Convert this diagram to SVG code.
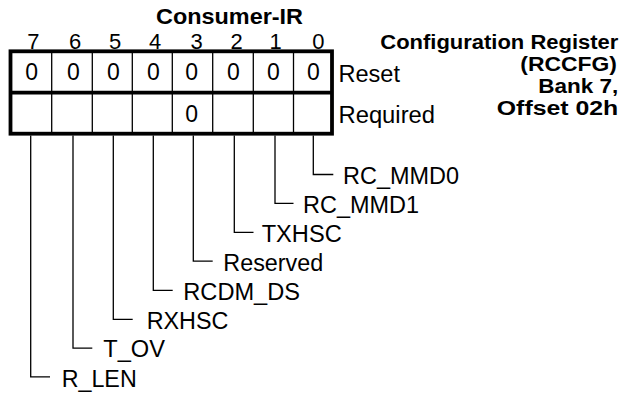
<svg xmlns="http://www.w3.org/2000/svg" width="623" height="393" viewBox="0 0 623 393">
<style>
text{font-family:"Liberation Sans",Arial,Helvetica,sans-serif;font-size:23px;fill:#000}
.b{font-weight:bold;font-size:22px}
.rn{font-weight:bold;font-size:19.5px;text-anchor:end}
.m{text-anchor:middle}
.bn{text-anchor:middle;font-size:22px}
.thick{fill:none;stroke:#000;stroke-width:3.8}
.thin{fill:none;stroke:#000;stroke-width:1.3}
.conn{fill:none;stroke:#000;stroke-width:1.3}
</style>
<rect width="623" height="393" fill="#fff"/>
<g id="title">
<text class="b" x="156" y="23.7" textLength="147" lengthAdjust="spacingAndGlyphs">Consumer-IR</text>
</g>
<g id="bit-numbers">
<text class="bn" x="33.3" y="48.5">7</text>
<text class="bn" x="75" y="48.5">6</text>
<text class="bn" x="115" y="48.5">5</text>
<text class="bn" x="155" y="48.5">4</text>
<text class="bn" x="196.5" y="48.5">3</text>
<text class="bn" x="236.7" y="48.5">2</text>
<text class="bn" x="275.5" y="48.5">1</text>
<text class="bn" x="318.3" y="48.5">0</text>
</g>
<g id="register">
<rect class="thick" x="10.5" y="51.3" width="321.5" height="82.4"/>
<line class="thick" x1="10.5" y1="92.7" x2="332" y2="92.7"/>
<line class="thin" x1="51.7" y1="51.3" x2="51.7" y2="133.7"/>
<line class="thin" x1="92.3" y1="51.3" x2="92.3" y2="133.7"/>
<line class="thin" x1="132.3" y1="51.3" x2="132.3" y2="133.7"/>
<line class="thin" x1="172.3" y1="51.3" x2="172.3" y2="133.7"/>
<line class="thin" x1="212.7" y1="51.3" x2="212.7" y2="133.7"/>
<line class="thin" x1="253.3" y1="51.3" x2="253.3" y2="133.7"/>
<line class="thin" x1="293.5" y1="51.3" x2="293.5" y2="133.7"/>
<text class="m" x="31.7" y="79.5">0</text>
<text class="m" x="73.3" y="79.5">0</text>
<text class="m" x="113.3" y="79.5">0</text>
<text class="m" x="153.3" y="79.5">0</text>
<text class="m" x="191.7" y="79.5">0</text>
<text class="m" x="233.3" y="79.5">0</text>
<text class="m" x="273.3" y="79.5">0</text>
<text class="m" x="313.3" y="79.5">0</text>
<text class="m" x="191.7" y="121.7">0</text>
</g>
<g id="row-labels">
<text x="338.5" y="81.7" textLength="61.5" lengthAdjust="spacingAndGlyphs">Reset</text>
<text x="338.5" y="123.3" textLength="96.5" lengthAdjust="spacingAndGlyphs">Required</text>
</g>
<g id="register-name">
<text class="rn" x="618.3" y="49.4" textLength="238" lengthAdjust="spacingAndGlyphs">Configuration Register</text>
<text class="rn" x="617" y="71.3" textLength="96.7" lengthAdjust="spacingAndGlyphs">(RCCFG)</text>
<text class="rn" x="618.3" y="93.2" textLength="80" lengthAdjust="spacingAndGlyphs">Bank 7,</text>
<text class="rn" x="618.3" y="115.1" textLength="121.5" lengthAdjust="spacingAndGlyphs">Offset 02h</text>
</g>
<g id="connectors">
<polyline class="conn" points="313.3,135.6 313.3,174.5 333.3,174.5"/>
<polyline class="conn" points="275,135.6 275,203.4 293.5,203.4"/>
<polyline class="conn" points="234.3,135.6 234.3,232.3 253.5,232.3"/>
<polyline class="conn" points="193.3,135.6 193.3,261.2 212.7,261.2"/>
<polyline class="conn" points="153.3,135.6 153.3,290.3 172.7,290.3"/>
<polyline class="conn" points="113.3,135.6 113.3,319.3 132.7,319.3"/>
<polyline class="conn" points="73,135.6 73,348.2 92.3,348.2"/>
<polyline class="conn" points="30.7,135.6 30.7,376.8 50,376.8"/>
</g>
<g id="field-RC_MMD0"><text x="343" y="184" textLength="116" lengthAdjust="spacingAndGlyphs">RC_MMD0</text></g>
<g id="field-RC_MMD1"><text x="303" y="212.8" textLength="116" lengthAdjust="spacingAndGlyphs">RC_MMD1</text></g>
<g id="field-TXHSC"><text x="261.7" y="241.7" textLength="80" lengthAdjust="spacingAndGlyphs">TXHSC</text></g>
<g id="field-Reserved"><text x="223.3" y="270.6" textLength="100" lengthAdjust="spacingAndGlyphs">Reserved</text></g>
<g id="field-RCDM_DS"><text x="183.3" y="299.6" textLength="116.7" lengthAdjust="spacingAndGlyphs">RCDM_DS</text></g>
<g id="field-RXHSC"><text x="146.7" y="328.5" textLength="81.7" lengthAdjust="spacingAndGlyphs">RXHSC</text></g>
<g id="field-T_OV"><text x="103.3" y="357.3" textLength="61.7" lengthAdjust="spacingAndGlyphs">T_OV</text></g>
<g id="field-R_LEN"><text x="61.7" y="386.5" textLength="75" lengthAdjust="spacingAndGlyphs">R_LEN</text></g>
</svg>
